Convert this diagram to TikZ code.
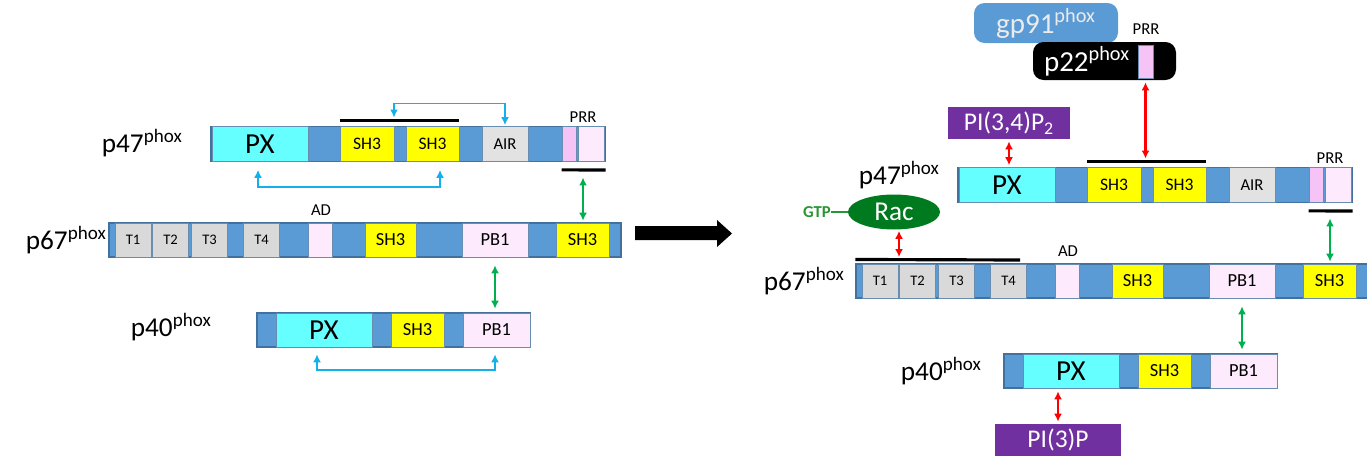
\documentclass[tikz,border=0pt]{standalone}
\usepackage{fontspec}
\setmainfont{Carlito}
\usetikzlibrary{arrows.meta,shapes.geometric}

\definecolor{barblue}{RGB}{91,155,213}
\definecolor{bordblue}{RGB}{65,113,156}
\definecolor{pxcyan}{RGB}{102,255,255}
\definecolor{shyellow}{RGB}{255,255,0}
\definecolor{tgray}{RGB}{217,217,217}
\definecolor{airgray}{RGB}{226,226,226}
\definecolor{palepink}{RGB}{253,234,253}
\definecolor{prrpink}{RGB}{245,195,245}
\definecolor{linkblue}{RGB}{20,176,235}
\definecolor{linkgreen}{RGB}{0,176,80}
\definecolor{linkred}{RGB}{255,0,0}
\definecolor{lipid}{RGB}{112,48,160}
\definecolor{racgreen}{RGB}{0,122,30}
\definecolor{gtpgreen}{RGB}{40,150,50}
\definecolor{gpgray}{RGB}{235,235,235}

\begin{document}
\begin{tikzpicture}[x=0.02cm, y=-0.02cm,
    bar/.style 2 args={draw=bordblue, fill=barblue, line width=0.6pt, inner sep=0pt, minimum width=#1*0.02cm, minimum height=#2*0.02cm},
    dom/.style 2 args={draw=bordblue!80, line width=0.4pt, inner sep=0pt, minimum width=#1*0.02cm, minimum height=#2*0.02cm},
    plab/.style={font=\fontsize{15.5}{18}\selectfont, inner sep=0pt},
    tag/.style={font=\fontsize{9.5}{11}\selectfont, inner sep=0pt},
    lipidbox/.style 2 args={fill=lipid, text=white, inner sep=0pt, minimum width=#1*0.02cm, minimum height=#2*0.02cm, font=\fontsize{14.5}{16}\selectfont},
    link/.style={<->, line width=1.4pt, >={Latex[length=4.5pt,width=4.5pt]}},
    blk/.style={line width=1.8pt}]
  \useasboundingbox (0,0) rectangle (1367,463);

  % the three subunits, resting (L) and assembled (R)
  \foreach \p/\dx/\dy in {L/0/0, R/747/41} {
    \begin{scope}[shift={(\dx,\dy)}]
      % p47
      \node (p47\p) at (408,144) [bar={394}{35}] {};
      \node (px47\p) at (260,144) [dom={96}{35}, fill=pxcyan, font=\fontsize{16.5}{18}\selectfont] {PX};
      \node (sh3a47\p) at (367,144) [dom={54}{35}, fill=shyellow, font=\fontsize{10}{11}\selectfont] {SH3};
      \node (sh3b47\p) at (432.5,144) [dom={53}{35}, fill=shyellow, font=\fontsize{10}{11}\selectfont] {SH3};
      \node (air47\p) at (505,144) [dom={46}{35}, fill=airgray, font=\fontsize{9.5}{11}\selectfont] {AIR};
      \node (prra47\p) at (569,144) [dom={14}{35}, fill=prrpink] {};
      \node (prrb47\p) at (591,144) [dom={26}{35}, fill=palepink] {};
      \node (prr\p) at (583,117) [tag] {PRR};
      \draw[blk] ([yshift=0.12cm]sh3a47\p.north west) -- ([yshift=0.12cm]sh3b47\p.north east);
      \draw[blk] ([yshift=-0.16cm]prra47\p.south west) -- ([yshift=-0.16cm]p47\p.south east);
      \coordinate (top\p) at (394,120.5);
      \coordinate (ul\p) at (583,169.5);
      % p67
      \node (p67\p) at (365,240) [bar={512}{34}] {};
      \foreach \k/\tx in {1/133,2/170.5,3/209.5,4/261.5}
        \node (t\k\p) at (\tx,240) [dom={36}{34}, fill=tgray, font=\fontsize{8.3}{9}\selectfont] {T\k};
      \node (ad67\p) at (320,240) [dom={24}{34}, fill=palepink] {};
      \node (sh3a67\p) at (390.5,240) [dom={51}{34}, fill=shyellow, font=\fontsize{10.5}{12}\selectfont] {SH3};
      \node (pb167\p) at (495,240) [dom={66}{34}, fill=palepink, font=\fontsize{10.5}{12}\selectfont] {PB1};
      \node (sh3b67\p) at (582.5,240) [dom={53}{34}, fill=shyellow, font=\fontsize{10.5}{12}\selectfont] {SH3};
      \node (ad\p) at (321,210) [tag] {AD};
      % p40
      \node (p40\p) at (393.5,330) [bar={273}{34}] {};
      \node (px40\p) at (324,330) [dom={96}{34}, fill=pxcyan, font=\fontsize{16.5}{18}\selectfont] {PX};
      \node (sh340\p) at (417.5,330) [dom={53}{34}, fill=shyellow, font=\fontsize{10.5}{12}\selectfont] {SH3};
      \node (pb140\p) at (496.5,330) [dom={67}{34}, fill=palepink, font=\fontsize{10.5}{12}\selectfont] {PB1};
      \draw[link, linkgreen] ([yshift=-0.16cm]ul\p) -- ([yshift=0.04cm]ul\p |- sh3b67\p.north);
      \draw[link, linkgreen] ([yshift=-0.16cm]pb167\p.south) -- ([yshift=0.08cm]pb167\p.south |- pb140\p.north);
    \end{scope}
  }

  \node (lab47L) at (183,143) [plab, anchor=east] {p47\textsuperscript{phox}};
  \node (lab67L) at (107,240) [plab, anchor=east] {p67\textsuperscript{phox}};
  \node (lab40L) at (212,327) [plab, anchor=east] {p40\textsuperscript{phox}};
  \node (lab47R) at (940,175) [plab, anchor=east] {p47\textsuperscript{phox}};
  \node (lab67R) at (845,281) [plab, anchor=east] {p67\textsuperscript{phox}};
  \node (lab40R) at (982,371) [plab, anchor=east] {p40\textsuperscript{phox}};

  % intramolecular contacts
  \draw[link, linkblue, line width=1pt] ([yshift=0.06cm]topL) -- ++(0,-14) -| ([yshift=0.02cm]air47L.north);
  \draw[link, linkblue, line width=1pt] ([xshift=-0.04cm, yshift=-0.16cm]px47L.south) -- ++(0,17) -| ([xshift=0.15cm, yshift=-0.16cm]sh3b47L.south);
  \draw[link, linkblue, line width=1pt] ([xshift=-0.14cm, yshift=-0.14cm]px40L.south) -- ++(0,16) -| ([xshift=-0.03cm, yshift=-0.14cm]pb140L.south);

  \fill (635,226) -- (717,226) -- (717,220) -- (732,233.5) -- (717,247) -- (717,240) -- (635,240) -- cycle;

  % membrane partners
  \node (gp91) at (1046,23) [fill=barblue, rounded corners=6pt, minimum width=144*0.02cm, minimum height=40*0.02cm, inner sep=0pt, text=gpgray, font=\fontsize{16.5}{18}\selectfont] {gp91\textsuperscript{phox}};
  \node (p22) at (1104.5,61) [fill=black, rounded corners=6pt, minimum width=143*0.02cm, minimum height=38*0.02cm, inner sep=0pt] {};
  \node (p22txt) at (1087,61) [text=white, font=\fontsize{16.5}{18}\selectfont, inner sep=0pt] {p22\textsuperscript{phox}};
  \node (prr22) at (1145.5,61.5) [dom={15}{33}, fill=prrpink] {};
  \node (prrtop) at (1146,29) [tag] {PRR};
  \node (pip2) at (1009,123) [lipidbox={122}{32}] {PI(3,4)P\textsubscript{2}};
  \node (rac) at (894,212) [ellipse, fill=racgreen, text=white, inner sep=0pt, minimum width=92*0.02cm, minimum height=35*0.02cm, font=\fontsize{15.5}{17}\selectfont] {Rac};
  \node (gtp) at (817,212) [text=gtpgreen, font=\bfseries\fontsize{9.5}{11}\selectfont, inner sep=0pt] {GTP};
  \draw[gtpgreen, line width=1.5pt] (gtp.east) -- (rac.west);
  \coordinate (tend) at (1020,260);
  \draw[blk] ([yshift=0.08cm]p67R.north west) -- (tend);
  \node (pi3p) at (1058,440) [lipidbox={126}{32}] {PI(3)P};

  \draw[link, linkred] ([yshift=-0.08cm]prr22.south) -- ([yshift=0.06cm]prr22.south |- topR);
  \draw[link, linkred] ([yshift=-0.04cm]pip2.south) -- ([yshift=0.04cm]pip2.south |- px47R.north);
  \draw[link, linkred] ([xshift=0.1cm, yshift=-0.02cm]rac.south) -- ([xshift=0.1cm, yshift=0.06cm]rac.south |- tend);
  \draw[link, linkred] ([yshift=0.04cm]pi3p.north) -- ([yshift=-0.06cm]pi3p.north |- px40R.south);
\end{tikzpicture}
\end{document}
